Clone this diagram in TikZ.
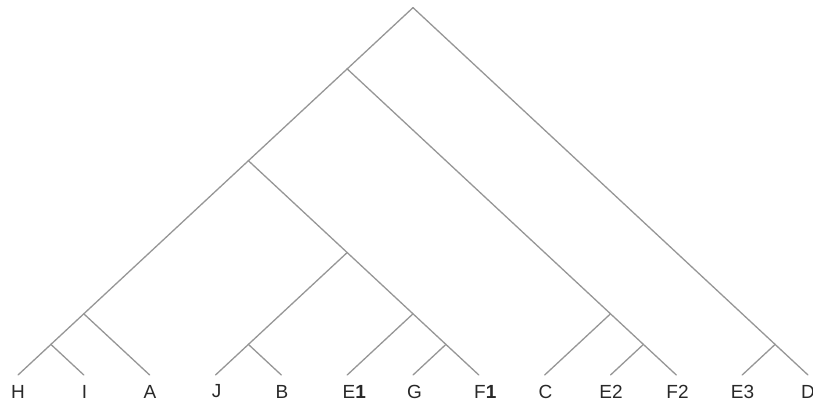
\documentclass[tikz,border=0pt]{standalone}
\usepackage{fontspec}
\setmainfont{Liberation Sans}
\definecolor{branch}{RGB}{150,150,150}
\definecolor{labelc}{RGB}{40,40,40}
\begin{document}
\begin{tikzpicture}[x=1pt,y=-1pt,
  edge/.style={draw=branch,line width=1.3pt,line cap=round},
  leaflabel/.style={font=\fontsize{19}{21}\selectfont,text=labelc,inner sep=0pt,anchor=center}]
\useasboundingbox (0,0) rectangle (813,408);
% leaf ends
\coordinate (tH) at (18,375);
\coordinate (tI) at (83.83,375);
\coordinate (tA) at (149.67,375);
\coordinate (tJ) at (215.5,375);
\coordinate (tB) at (281.33,375);
\coordinate (tE1) at (347.17,375);
\coordinate (tG) at (413,375);
\coordinate (tF1) at (478.83,375);
\coordinate (tC) at (544.67,375);
\coordinate (tE2) at (610.5,375);
\coordinate (tF2) at (676.33,375);
\coordinate (tE3) at (742.17,375);
\coordinate (tD) at (808,375);
% internal nodes
\coordinate (hi) at (50.9,344.4);
\coordinate (hia) at (83.8,313.8);
\coordinate (jb) at (248.4,344.4);
\coordinate (gf) at (445.9,344.4);
\coordinate (egf) at (413,313.8);
\coordinate (jbegf) at (347.17,252.55);
\coordinate (n2) at (248.4,160.7);
\coordinate (ef) at (643.4,344.4);
\coordinate (cef) at (610.5,313.8);
\coordinate (n1) at (347.17,68.9);
\coordinate (ed) at (775.1,344.4);
\coordinate (root) at (413,7.65);
% branches
\draw[edge] (root) -- (n1);
\draw[edge] (root) -- (ed);
\draw[edge] (ed) -- (tE3);
\draw[edge] (ed) -- (tD);
\draw[edge] (n1) -- (n2);
\draw[edge] (n1) -- (cef);
\draw[edge] (n2) -- (hia);
\draw[edge] (n2) -- (jbegf);
\draw[edge] (hia) -- (hi);
\draw[edge] (hia) -- (tA);
\draw[edge] (hi) -- (tH);
\draw[edge] (hi) -- (tI);
\draw[edge] (jbegf) -- (jb);
\draw[edge] (jbegf) -- (egf);
\draw[edge] (jb) -- (tJ);
\draw[edge] (jb) -- (tB);
\draw[edge] (egf) -- (tE1);
\draw[edge] (egf) -- (gf);
\draw[edge] (gf) -- (tG);
\draw[edge] (gf) -- (tF1);
\draw[edge] (cef) -- (tC);
\draw[edge] (cef) -- (ef);
\draw[edge] (ef) -- (tE2);
\draw[edge] (ef) -- (tF2);
% labels
\node[leaflabel] (lH) at (18,391.5) {H};
\node[leaflabel] (lI) at (84.5,391.5) {I};
\node[leaflabel] (lA) at (150,391.5) {A};
\node[leaflabel] (lJ) at (216.5,391.5) {J};
\node[leaflabel] (lB) at (282,391.5) {B};
\node[leaflabel] (lE1) at (349,391.5) {E\rlap{\textbf{1}}};
\node[leaflabel] (lG) at (414.5,391.5) {G};
\node[leaflabel] (lF1) at (480,391.5) {F\rlap{\textbf{1}}};
\node[leaflabel] (lC) at (545.5,391.5) {C};
\node[leaflabel] (lE2) at (611,391.5) {E2};
\node[leaflabel] (lF2) at (677.5,391.5) {F2};
\node[leaflabel] (lE3) at (742.5,391.5) {E3};
\node[leaflabel] (lD) at (808,391.5) {D};
\end{tikzpicture}
\end{document}
